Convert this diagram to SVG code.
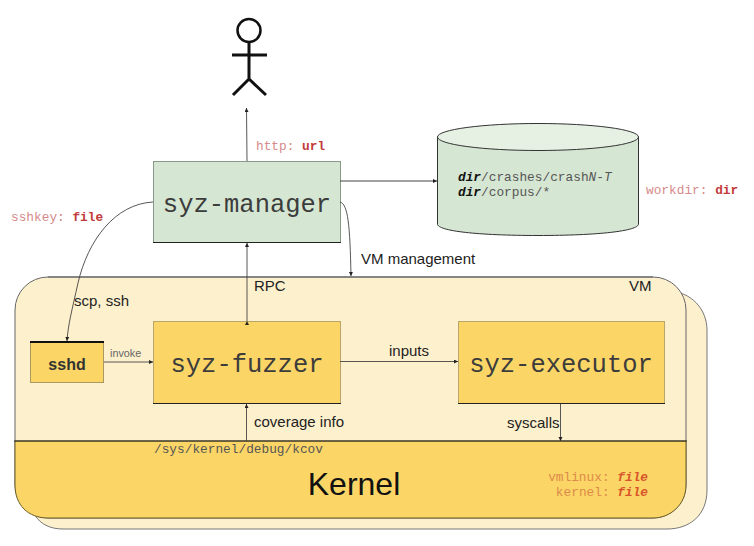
<svg xmlns="http://www.w3.org/2000/svg" width="754" height="546" viewBox="0 0 754 546">
<style>
text{font-family:"Liberation Sans",Arial,sans-serif;fill:#222}
.m{font-family:"Liberation Mono","Courier New",monospace;font-size:12.800px;fill:#555}
.big{font-family:"Liberation Mono","Courier New",monospace;font-size:25.500px;fill:#3c3c3c}
.lab{font-size:15px}
.r{font-family:"Liberation Mono","Courier New",monospace;font-size:12.800px;fill:#d58a8a}
.rb{font-weight:bold;fill:#c23b3b}
.o{fill:#dd8a4a}
.ob{font-weight:bold;font-style:italic;fill:#d8542a}
.db{font-weight:bold;font-style:italic;fill:#111}
.c{fill:none;stroke:#444;stroke-width:.9}
</style>
<defs>
<marker id="a" markerWidth="5" markerHeight="5" refX="4" refY="2" orient="auto" markerUnits="userSpaceOnUse"><path d="M0 0L4 2L0 4z" fill="#222"/></marker>
</defs>
<g id="vm-back">
<path d="M68 291H667C692 291 707 310 707 330V490C707 515 690 529 667 529H63C50 529 40 524 35 515V300z" fill="#fdf0cd" stroke="#777"/>
</g>
<g id="vm-front">
<rect x="15" y="277" width="671" height="241" rx="33" fill="#fdf0cd" stroke="#666"/>
<path d="M48 277H653" stroke="#777" stroke-width="1.600" fill="none"/>
<text x="629" y="291" class="lab">VM</text>
</g>
<g id="kernel">
<path d="M15 441H686V485C686 505 670 518 653 518H48C28 518 15 505 15 485z" fill="#fbd666" stroke="#6b5e2a"/>
<path d="M14 441H687" stroke="#222" fill="none"/>
<text x="354" y="495" text-anchor="middle" font-size="32" style="fill:#111">Kernel</text>
<text x="648" y="481" text-anchor="end" class="r o">vmlinux: <tspan class="ob">file</tspan></text>
<text x="648" y="496" text-anchor="end" class="r o">kernel: <tspan class="ob">file</tspan></text>
</g>
<g id="user" fill="none" stroke="#111" stroke-width="3">
<circle cx="249" cy="30.500" r="11.500" stroke-width="2.500"/>
<path d="M249 42V79M232 55H267M233 95L249 79L266 95"/>
</g>
<g id="syz-manager">
<rect x="153.500" y="161.500" width="187" height="81" fill="#d5e6d3" stroke="#8a9a88"/>
<path d="M153 242.500H341" stroke="#222" fill="none"/>
<text x="247" y="212" text-anchor="middle" class="big">syz-manager</text>
</g>
<g id="workdir">
<path d="M437.500 137V224C437.500 231 478 235.500 538 235.500S638.500 231 638.500 224V137z" fill="#d5e6d3" stroke="#333"/>
<ellipse cx="538" cy="137" rx="100.500" ry="13.500" fill="#e6f1e3" stroke="#333"/>
<text x="458" y="181" class="m"><tspan class="db">dir</tspan>/crashes/crash<tspan font-style="italic">N</tspan>-<tspan font-style="italic">T</tspan></text>
<text x="458" y="196" class="m"><tspan class="db">dir</tspan>/corpus/*</text>
</g>
<g id="sshd">
<rect x="30.500" y="342.500" width="73" height="40" fill="#fbd666" stroke="#a89a60"/>
<path d="M30 342H104" stroke="#111" stroke-width="2" fill="none"/>
<text x="67" y="370" text-anchor="middle" font-size="16" font-weight="bold" style="fill:#333">sshd</text>
</g>
<g id="syz-fuzzer">
<rect x="153.500" y="321.500" width="187" height="82" fill="#fbd666" stroke="#b9a668"/>
<path d="M153 403.500H341" stroke="#222" fill="none"/>
<text x="247" y="372" text-anchor="middle" class="big">syz-fuzzer</text>
</g>
<g id="syz-executor">
<rect x="458.500" y="321.500" width="206" height="82" fill="#fbd666" stroke="#b9a668"/>
<path d="M458 403.500H665" stroke="#222" fill="none"/>
<text x="561" y="372" text-anchor="middle" class="big">syz-executor</text>
</g>
<g id="connectors">
<path class="c" d="M247 161L246.500 108" marker-end="url(#a)"/>
<path class="c" d="M340 181H437" marker-end="url(#a)" style="stroke-width:1.200"/>
<path class="c" d="M340 202C348 204 350 225 351 276" marker-end="url(#a)"/>
<path class="c" d="M153 202C115 204 88 240 78 283C72 310 68 325 67 341" marker-end="url(#a)"/>
<path class="c" d="M247 321V243" marker-end="url(#a)" marker-start="url(#a)"/>
<path class="c" d="M104 362H153" marker-end="url(#a)"/>
<path class="c" d="M340 361.500H458" marker-end="url(#a)"/>
<path class="c" d="M246.500 441V404" marker-end="url(#a)"/>
<path class="c" d="M560.500 404V441" marker-end="url(#a)"/>
</g>
<g id="labels">
<text x="256" y="150" class="r">http: <tspan class="rb">url</tspan></text>
<text x="11" y="221" class="r">sshkey: <tspan class="rb">file</tspan></text>
<text x="646" y="194" class="r">workdir: <tspan class="rb">dir</tspan></text>
<text x="361" y="264" class="lab">VM management</text>
<text x="254" y="291" class="lab">RPC</text>
<text x="74" y="306" class="lab">scp, ssh</text>
<text x="110" y="357" font-size="10.800" style="fill:#666">invoke</text>
<text x="389" y="356" class="lab">inputs</text>
<text x="254" y="427" class="lab">coverage info</text>
<text x="507" y="428" class="lab">syscalls</text>
<text x="154" y="453" class="m">/sys/kernel/debug/kcov</text>
</g>
</svg>
